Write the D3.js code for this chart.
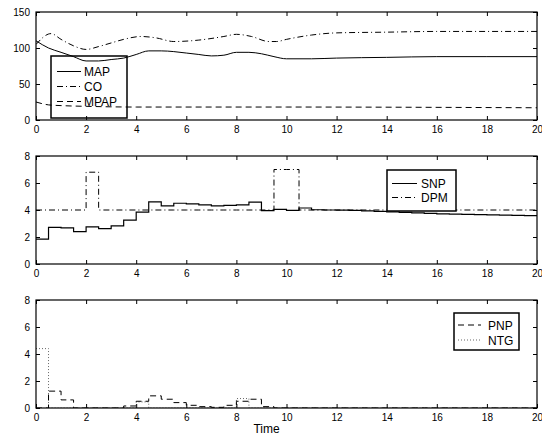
<!DOCTYPE html>
<html>
<head>
<meta charset="utf-8">
<script src="https://cdn.jsdelivr.net/npm/d3@7"></script>
<style>
  body { margin: 0; background: #fff; }
  text { font-family: "Liberation Sans", Arial, sans-serif; }
</style>
</head>
<body>
<svg id="chart" width="542" height="440"></svg>
<script>
// ---- data ----
// top panel, smooth signals
const mapT = [0, 0.5, 1, 1.5, 2, 2.5, 3, 3.5, 4, 4.5, 5, 5.5, 6, 6.5, 7, 7.5, 8, 8.5, 9, 9.5, 10, 11, 12, 14, 16, 18, 20];
const mapV = [110, 100, 94, 88, 82, 82, 84, 86, 91, 96, 96, 95, 93, 91, 89, 90, 94, 94, 92, 88, 85, 85, 86, 87, 88, 88, 88];
const coT = [0, 0.6, 1, 1.5, 2, 2.5, 3, 3.5, 4.2, 4.8, 5.5, 6.5, 7.5, 8, 8.6, 9.3, 9.6, 10, 11, 12, 14, 16, 18, 20];
const coV = [105, 120, 112, 103, 98, 102, 107, 112, 116, 114, 109, 111, 116, 119, 116, 109, 109, 112, 118, 121, 122, 123, 123, 123];
const mpapT = [0, 0.5, 1, 2, 4, 10, 20];
const mpapV = [25, 21, 20, 19, 18, 18, 17];

// step signals, sampled every 0.5 time units (value holds until next sample)
const stepT = d3.range(0, 20.001, 0.5);
const snpV = [1.85, 2.72, 2.68, 2.4, 2.75, 2.62, 2.82, 3.25, 3.85, 4.6, 4.3, 4.5, 4.45, 4.38, 4.3, 4.35, 4.38, 4.58, 3.95, 4.05,
              3.97, 4.15, 4.02, 4.0, 3.99, 3.97, 3.94, 3.9, 3.86, 3.82, 3.78, 3.75, 3.72, 3.7, 3.68, 3.66, 3.64, 3.62, 3.6, 3.58, 3.57];
const dpmV = [4, 4, 4, 4, 6.8, 4, 4, 4, 4, 4, 4, 4, 4, 4, 4, 4, 4, 4, 4, 7.0,
              7.0, 4, 4, 4, 4, 4, 4, 4, 4, 4, 4, 4, 4, 4, 4, 4, 4, 4, 4, 4, 4];
const pnpV = [0, 1.25, 0.6, 0, 0, 0, 0, 0.15, 0.5, 0.9, 0.65, 0.4, 0.2, 0.1, 0.05, 0.2, 0.5, 0.65, 0.1, 0,
              0, 0, 0, 0, 0, 0, 0, 0, 0, 0, 0, 0, 0, 0, 0, 0, 0, 0, 0, 0, 0];
const ntgV = [4.4, 0, 0, 0, 0, 0, 0, 0, 0.45, 0, 0, 0, 0, 0, 0, 0, 0.7, 0, 0, 0,
              0, 0, 0, 0, 0, 0, 0, 0, 0, 0, 0, 0, 0, 0, 0, 0, 0, 0, 0, 0, 0];

const xTicks = [0, 2, 4, 6, 8, 10, 12, 14, 16, 18, 20];
const yTicksTop = [0, 50, 100, 150];
const yTicksLow = [0, 2, 4, 6, 8];

// ---- layout ----
const left = 36, right = 537, panelH = 108;
const tops = [12, 156, 300];

const DASH = "6,4", DASHDOT = "6,3,1,3", DOT = "1,2";

const svg = d3.select("#chart");
const x = d3.scaleLinear().domain([0, 20]).range([left, right]);

function zip(ts, vs) { return ts.map((t, i) => [t, vs[i]]); }

function panel(top, yMax, yTicks) {
  const y = d3.scaleLinear().domain([0, yMax]).range([top + panelH, top]);
  const g = svg.append("g");
  const clipId = "clip" + top;
  svg.append("clipPath").attr("id", clipId).append("rect")
    .attr("x", left).attr("y", top).attr("width", right - left).attr("height", panelH);
  const legendLayer = g.append("g");
  const plot = g.append("g").attr("clip-path", "url(#" + clipId + ")");

  // axes with inward ticks on all four sides
  const ax = g.append("g").attr("class", "axes");
  ax.append("g").attr("transform", "translate(0," + (top + panelH) + ")")
    .call(d3.axisBottom(x).tickValues(xTicks).tickSize(-4).tickPadding(6).tickFormat(d3.format("d")));
  ax.append("g").attr("transform", "translate(0," + top + ")")
    .call(d3.axisTop(x).tickValues(xTicks).tickSize(-4).tickFormat(""));
  ax.append("g").attr("transform", "translate(" + left + ",0)")
    .call(d3.axisLeft(y).tickValues(yTicks).tickSize(-4).tickPadding(6).tickFormat(d3.format("d")));
  ax.append("g").attr("transform", "translate(" + right + ",0)")
    .call(d3.axisRight(y).tickValues(yTicks).tickSize(-4).tickFormat(""));
  ax.selectAll(".domain").remove();
  ax.selectAll("text").attr("font-size", 10).attr("fill", "#000")
    .style("font-family", "Liberation Sans, Arial, sans-serif");
  ax.selectAll("line").attr("stroke", "#000");
  g.append("rect").attr("x", left).attr("y", top).attr("width", right - left).attr("height", panelH)
    .attr("fill", "none").attr("stroke", "#000").attr("stroke-width", 1.2);

  return { y, plot, g, legendLayer };
}

function drawLine(p, pts, curve, dash, color, width) {
  const line = d3.line().x(d => x(d[0])).y(d => p.y(d[1])).curve(curve);
  p.plot.append("path").datum(pts).attr("d", line)
    .attr("fill", "none").attr("stroke", color || "#000")
    .attr("stroke-width", width || 1)
    .attr("stroke-dasharray", dash || null);
}

// legend box; "behind" puts it under the data lines (transparent box)
function legend(p, box, items) {
  const L = box.behind ? p.legendLayer : p.g;
  L.append("rect").attr("x", box.x).attr("y", box.y).attr("width", box.w).attr("height", box.h)
    .attr("fill", box.behind ? "none" : "#fff").attr("stroke", "#000").attr("stroke-width", 1.5);
  items.forEach((it, i) => {
    const yy = box.y + box.first + i * box.step;
    L.append("line").attr("x1", box.x + box.l1).attr("x2", box.x + box.l2)
      .attr("y1", yy).attr("y2", yy)
      .attr("stroke", it.color || "#000").attr("stroke-width", 1)
      .attr("stroke-dasharray", it.dash || null);
    L.append("text").attr("x", box.x + box.tx).attr("y", yy + 4.5)
      .attr("font-size", 12).text(it.name);
  });
}

// panel 1
const p1 = panel(tops[0], 150, yTicksTop);
drawLine(p1, zip(mapT, mapV), d3.curveMonotoneX);
drawLine(p1, zip(coT, coV), d3.curveMonotoneX, DASHDOT);
drawLine(p1, zip(mpapT, mpapV), d3.curveMonotoneX, DASH);
legend(p1, { x: 51, y: 56, w: 76, h: 62, first: 15.5, step: 15, l1: 6, l2: 30, tx: 33, behind: true }, [
  { name: "MAP" }, { name: "CO", dash: DASHDOT }, { name: "MPAP", dash: DASH }
]);

// panel 2
const p2 = panel(tops[1], 8, yTicksLow);
drawLine(p2, zip(stepT, dpmV), d3.curveStepAfter, DASHDOT);
drawLine(p2, zip(stepT, snpV), d3.curveStepAfter, null, "#000", 1.2);
legend(p2, { x: 387, y: 170, w: 69, h: 41, first: 13.5, step: 14, l1: 5, l2: 30, tx: 34 }, [
  { name: "SNP" }, { name: "DPM", dash: DASHDOT }
]);

// panel 3
const p3 = panel(tops[2], 8, yTicksLow);
drawLine(p3, zip(stepT, ntgV), d3.curveStepAfter, DOT, "#666");
drawLine(p3, zip(stepT, pnpV), d3.curveStepAfter, DASH);
legend(p3, { x: 454, y: 313, w: 65, h: 37, first: 12, step: 15, l1: 4, l2: 27, tx: 34 }, [
  { name: "PNP", dash: DASH }, { name: "NTG", dash: DOT, color: "#666" }
]);

svg.append("text").attr("x", (left + right) / 2 - 20).attr("y", 433)
  .attr("text-anchor", "middle").attr("font-size", 12).text("Time");
</script>
</body>
</html>
